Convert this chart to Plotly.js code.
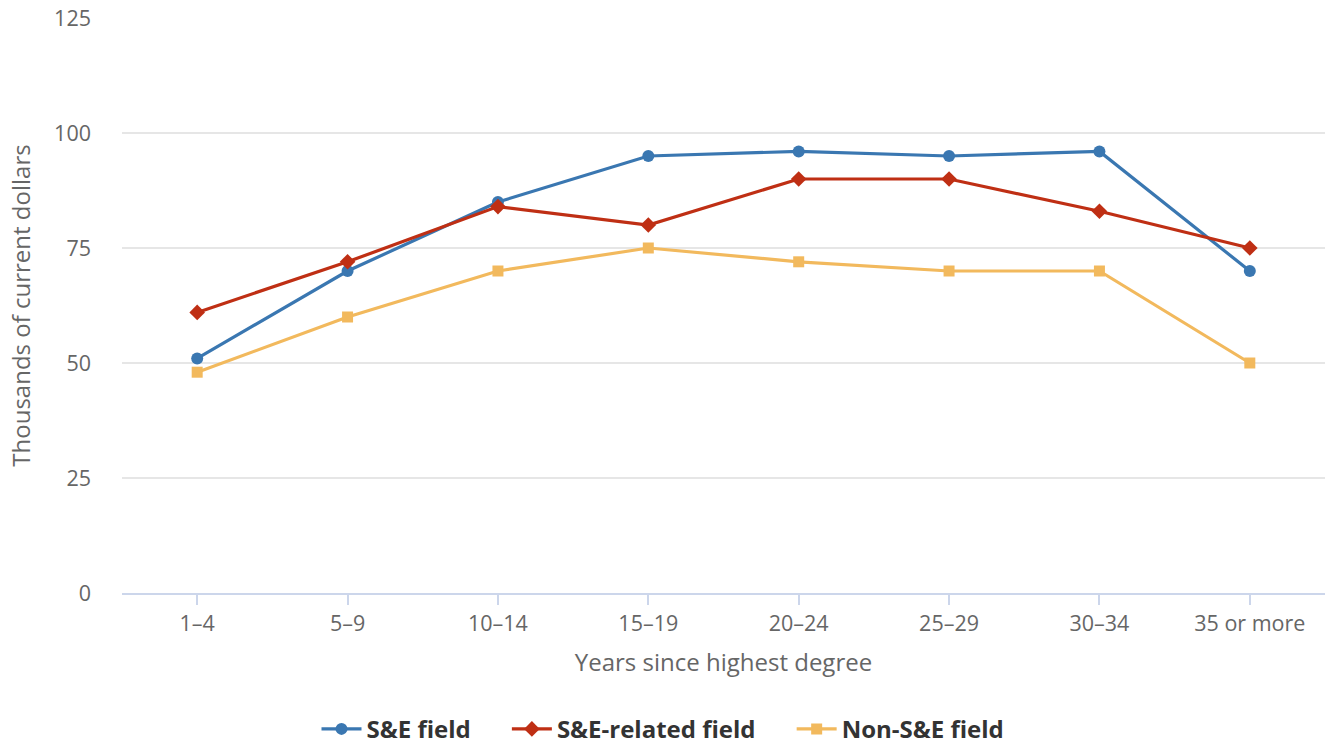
<!DOCTYPE html>
<html><head><meta charset="utf-8">
<script src="https://cdn.plot.ly/plotly-3.0.1.min.js"></script>
<style>html,body{margin:0;padding:0;background:#fff}#chart{width:1326px;height:746px}</style>
</head><body><div id="chart"></div>
<script>
var categories = ["1–4","5–9","10–14","15–19","20–24","25–29","30–34","35 or more"];
var seField = [51,70,85,95,96,95,96,70];
var seRelated = [61,72,84,80,90,90,83,75];
var nonSE = [48,60,70,75,72,70,70,50];
var yTicks = [0,25,50,75,100,125];
var seriesNames = ["S&E field","S&E-related field","Non-S&E field"];
var pad = "\u00a0\u00a0\u00a0\u00a0\u00a0";

var traces = [
 {x:categories,y:seField,name:seriesNames[0]+pad,type:"scatter",mode:"lines+markers",
  line:{color:"#3a77b1",width:3.2},marker:{symbol:"circle",size:12,color:"#3a77b1"}},
 {x:categories,y:seRelated,name:seriesNames[1]+pad,type:"scatter",mode:"lines+markers",
  line:{color:"#bf2f14",width:3.2},marker:{symbol:"diamond",size:12,color:"#bf2f14"}},
 {x:categories,y:nonSE,name:seriesNames[2],type:"scatter",mode:"lines+markers",
  line:{color:"#f2b95d",width:3.2},marker:{symbol:"square",size:11,color:"#f2b95d"}}
];
var layout = {
 width:1326,height:746,
 margin:{l:122,r:1,t:18,b:153,autoexpand:false},
 paper_bgcolor:"#fff",plot_bgcolor:"#fff",
 font:{family:"Open Sans, sans-serif",color:"#666"},
 showlegend:true,
 legend:{orientation:"h",xref:"container",x:0.5,xanchor:"center",y:-0.237,yanchor:"middle",
  font:{size:24,color:"#333",weight:"bold"},itemwidth:40,traceorder:"normal"},
 xaxis:{type:"category",range:[-0.5,7.5],showgrid:false,zeroline:false,
  showline:true,linecolor:"#ccd6eb",linewidth:2,ticks:"outside",ticklen:10,tickwidth:2,tickcolor:"#ccd6eb",
  tickfont:{size:21.5,color:"#666"},
  title:{text:"Years since highest degree",font:{size:24,color:"#666"},standoff:18}},
 yaxis:{range:[0,125],tickvals:yTicks,showgrid:true,gridcolor:"#e6e6e6",gridwidth:1.5,zeroline:false,
  showline:false,ticks:"",ticklabelstandoff:30,tickfont:{size:21.5,color:"#666"},
  title:{text:"Thousands of current dollars",font:{size:24,color:"#666"},standoff:16}}
};
Plotly.newPlot("chart",traces,layout,{displayModeBar:false});
</script></body></html>
